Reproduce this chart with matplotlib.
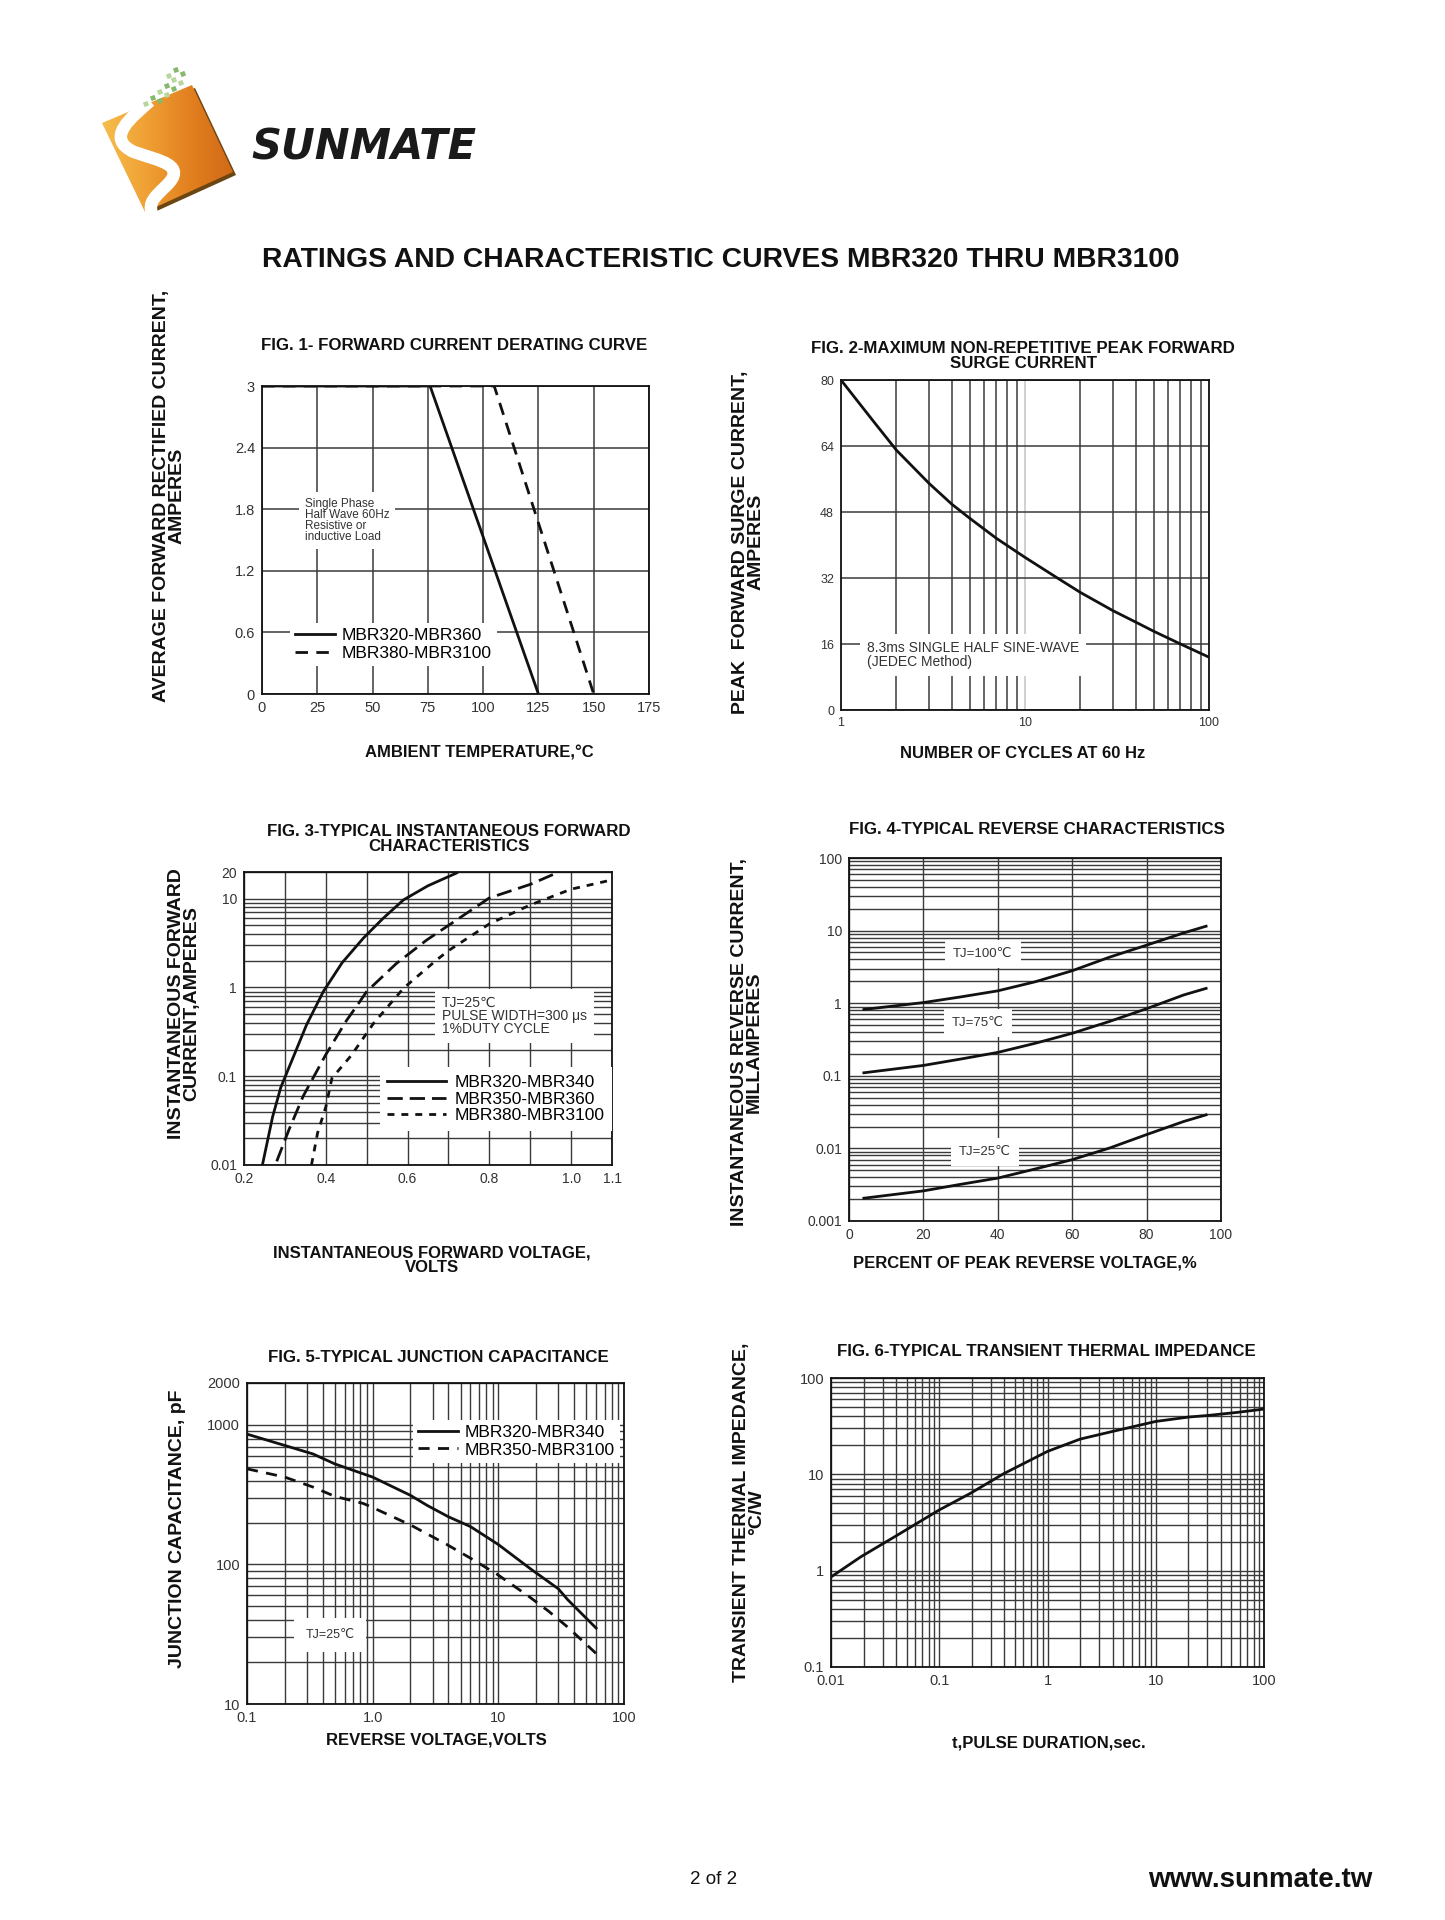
import numpy as np
import matplotlib
matplotlib.use('Agg')
import matplotlib.pyplot as plt
from matplotlib.patches import Polygon, PathPatch, RegularPolygon
from matplotlib.path import Path
from matplotlib.colors import LinearSegmentedColormap
from matplotlib.ticker import LogLocator, NullFormatter

plt.rcParams['font.family'] = ['Liberation Sans', 'DejaVu Sans']
plt.rcParams['lines.scale_dashes'] = False

W, H = 1445, 1920
GRID = '#3a3a3a'
INK = '#111111'

# ---- FIG. 1 forward current derating
f1_temp_a = [0, 76, 125]
f1_amp_a = [3.0, 3.0, 0.0]
f1_temp_b = [0, 105, 150]
f1_amp_b = [3.0, 3.0, 0.0]
f1_labels = ['MBR320-MBR360', 'MBR380-MBR3100']

# ---- FIG. 2 peak forward surge current
f2_cycles = [1, 1.2, 1.5, 2, 3, 4, 5, 7, 10, 15, 20, 30, 40, 50, 70, 100]
f2_amps = [80, 75.5, 70, 63, 55, 49.9, 46.5, 41.6, 37, 32, 28.5, 24.1, 21.3,
           19.1, 16, 12.8]

# ---- FIG. 3 forward characteristics
f3_v_a = [0.245, 0.27, 0.29, 0.317, 0.353, 0.394, 0.44, 0.492, 0.54, 0.59, 0.65, 0.72]
f3_i_a = [0.01, 0.035, 0.075, 0.15, 0.38, 0.9, 1.9, 3.6, 6.0, 9.7, 14, 19.5]
f3_v_b = [0.28, 0.31, 0.345, 0.40, 0.45, 0.48, 0.50, 0.573, 0.647, 0.70, 0.80, 0.90, 0.97]
f3_i_b = [0.011, 0.025, 0.06, 0.175, 0.42, 0.66, 0.9, 1.87, 3.43, 5.0, 10.2, 14.5, 20]
f3_v_c = [0.365, 0.38, 0.40, 0.415, 0.463, 0.516, 0.59, 0.671, 0.70, 0.80, 0.90, 1.0, 1.1]
f3_i_c = [0.01, 0.023, 0.045, 0.095, 0.173, 0.39, 0.98, 2.04, 2.6, 5.2, 8.5, 12.8, 16.3]
f3_labels = ['MBR320-MBR340', 'MBR350-MBR360', 'MBR380-MBR3100']

# ---- FIG. 4 reverse characteristics
f4_pct = [4, 20, 30, 40, 50, 60, 70, 80, 90, 96]
f4_tj100 = [0.82, 1.02, 1.22, 1.48, 1.97, 2.8, 4.3, 6.3, 9.3, 11.5]
f4_tj75 = [0.11, 0.139, 0.17, 0.21, 0.28, 0.385, 0.56, 0.84, 1.3, 1.6]
f4_tj25 = [0.00206, 0.0026, 0.0032, 0.0039, 0.0052, 0.007, 0.0101, 0.0155, 0.0235, 0.029]

# ---- FIG. 5 junction capacitance
f5_v_a = [0.1, 0.2, 0.335, 0.5, 1.0, 2.0, 2.7, 4.0, 6.0, 10, 18.2, 30, 35.6, 60]
f5_c_a = [860, 713, 620, 526, 423, 313, 266, 220, 187, 139, 92.5, 67, 56, 35]
f5_v_b = [0.1, 0.2, 0.335, 0.5, 0.84, 1.0, 2.0, 3.9, 6.0, 9.8, 17.5, 25, 35.6, 63]
f5_c_b = [485, 423, 359, 308, 274, 256, 192, 139, 111, 85, 59, 46.4, 35.6, 22.1]
f5_labels = ['MBR320-MBR340', 'MBR350-MBR3100']

# ---- FIG. 6 transient thermal impedance
f6_t = [0.01, 0.019, 0.039, 0.1, 0.195, 0.39, 1.0, 2.0, 4.0, 10, 20, 30, 57, 100]
f6_z = [0.86, 1.40, 2.26, 4.27, 6.37, 10.1, 17.3, 23.2, 27.9, 35.4, 39.3, 40.8, 44, 47.6]


fig = plt.figure(figsize=(W / 100, H / 100), dpi=100)

# page layer in pixel coordinates
pg = fig.add_axes([0, 0, 1, 1])
pg.axis('off')


def page_text(x, y, s, size, weight='bold', rot=0, **kw):
    pg.text(x, y, s, fontsize=size, fontweight=weight, rotation=rot,
            ha=kw.pop('ha', 'center'), va='center', color=kw.pop('color', INK), **kw)


def px_axes(l, t, r, b):
    return fig.add_axes([l / W, 1 - b / H, (r - l) / W, (b - t) / H])


def style(ax, size=8.5):
    for s in ax.spines.values():
        s.set_linewidth(1.3)
        s.set_color(INK)
    ax.tick_params(which='both', length=0, labelsize=size, labelcolor='#333333', pad=5)
    ax.set_axisbelow(True)


def log_minor(axis):
    axis.set_minor_locator(LogLocator(base=10, subs=np.arange(2, 10), numticks=30))
    axis.set_minor_formatter(NullFormatter())


white_box = dict(facecolor='white', edgecolor='none', boxstyle='square,pad=0.6')

# ---------------- logo ----------------
sq = [(102, 123), (192, 85), (233, 172), (145, 212)]
shadow = Polygon([(x + 3, y + 3) for x, y in sq], closed=True, facecolor='#6b4512',
                 edgecolor='none', zorder=1)
pg.add_patch(shadow)
sq_patch = Polygon(sq, closed=True, facecolor='none', edgecolor='none', zorder=2)
pg.add_patch(sq_patch)
cmap = LinearSegmentedColormap.from_list('logo', ['#f6c04e', '#f0a236', '#e2801f', '#d06816'])
grad = np.tile(np.linspace(0, 1, 128), (64, 1))
im = pg.imshow(grad, extent=(98, 236, 214, 82), cmap=cmap, aspect='auto', zorder=2)
im.set_clip_path(sq_patch)
s_path = Path([(150, 101), (132, 117), (104, 138), (134, 152),
               (160, 161), (188, 165), (166, 186),
               (155, 197), (148, 202), (152, 214)],
              [Path.MOVETO, Path.CURVE4, Path.CURVE4, Path.CURVE4,
               Path.CURVE4, Path.CURVE4, Path.CURVE4,
               Path.CURVE4, Path.CURVE4, Path.CURVE4])
pg.add_patch(PathPatch(s_path, facecolor='none', edgecolor='white', lw=9, zorder=3,
                       capstyle='butt'))
for i, (gx, gy) in enumerate([(146, 104), (153, 98), (160, 92), (167, 86), (174, 80),
                               (160, 101), (167, 95), (174, 89), (181, 83), (176, 70),
                               (169, 76), (183, 74)]):
    pg.add_patch(RegularPolygon((gx, gy), 4, radius=3.4, orientation=np.radians(23),
                                facecolor='#86b96c' if i % 2 else '#b7d79c',
                                edgecolor='none', zorder=4))
pg.text(251, 147, 'SUNMATE', fontsize=30, fontweight='bold', fontstyle='italic',
        family='DejaVu Sans', color='#1a1a1a', ha='left', va='center')

pg.set_xlim(0, W)
pg.set_ylim(H, 0)

# ---------------- page texts ----------------
page_text(721, 260, 'RATINGS AND CHARACTERISTIC CURVES MBR320 THRU MBR3100', 20.3)
page_text(714, 1880, '2 of 2', 13.5, weight='normal')
page_text(1372, 1880, 'www.sunmate.tw', 20, ha='right')

YL = dict(rot=90, linespacing=0.85, multialignment='center')

# ---------------- FIG. 1 ----------------
ax1 = px_axes(262, 386, 649, 694)
style(ax1, 10.5)
ax1.plot(f1_temp_a, f1_amp_a, color=INK, lw=2.0, label=f1_labels[0], zorder=4)
ax1.plot(f1_temp_b, f1_amp_b, color=INK, lw=2.0, dashes=(9, 6), label=f1_labels[1], zorder=4)
ax1.set_xlim(0, 175)
ax1.set_ylim(0, 3)
ax1.set_xticks(range(0, 176, 25))
ax1.set_yticks([0, 0.6, 1.2, 1.8, 2.4, 3])
ax1.set_yticklabels(['0', '0.6', '1.2', '1.8', '2.4', '3'])
ax1.grid(True, color=GRID, lw=1.1)
ax1.text(19.4, 1.69, 'Single Phase\nHalf Wave 60Hz\nResistive or\ninductive Load',
         fontsize=8.5, color='#333333', va='center', ha='left', linespacing=0.9,
         bbox=dict(facecolor='white', edgecolor='none', boxstyle='square,pad=0.5'))
ax1.legend(loc='center left', bbox_to_anchor=(0.05, 0.16), fontsize=12.5,
           frameon=True, fancybox=False, edgecolor='none', facecolor='white',
           framealpha=1, handlelength=2.3, handletextpad=0.4, labelspacing=0.15,
           borderpad=0.3)
page_text(454, 346, 'FIG. 1- FORWARD CURRENT DERATING CURVE', 12.2)
page_text(479, 753, 'AMBIENT TEMPERATURE,°C', 12)
page_text(169, 496, 'AVERAGE FORWARD RECTIFIED CURRENT,\nAMPERES', 14, **YL)

# ---------------- FIG. 2 ----------------
ax2 = px_axes(841, 380, 1209, 710)
style(ax2, 9)
ax2.plot(f2_cycles, f2_amps, color=INK, lw=2.0, zorder=4)
ax2.set_xscale('log')
ax2.set_xlim(1, 100)
ax2.set_ylim(0, 80)
ax2.set_xticks([1, 10, 100])
ax2.set_xticklabels(['1', '10', '100'])
log_minor(ax2.xaxis)
ax2.set_yticks([0, 16, 32, 48, 64, 80])
ax2.grid(True, axis='x', which='minor', color=GRID, lw=1.1)
ax2.grid(True, axis='x', which='major', color='#c4c4c4', lw=1.1)
ax2.grid(True, axis='y', which='major', color=GRID, lw=1.1)
ax2.text(1.385, 13.3, '8.3ms SINGLE HALF SINE-WAVE\n(JEDEC Method)', fontsize=10,
         color='#333333', va='center', ha='left', linespacing=1.0,
         bbox=dict(facecolor='white', edgecolor='none', boxstyle='square,pad=0.5'))
page_text(1023, 356, 'FIG. 2-MAXIMUM NON-REPETITIVE PEAK FORWARD\nSURGE CURRENT', 12.2,
          linespacing=0.95)
page_text(1023, 754, 'NUMBER OF CYCLES AT 60 Hz', 12)
page_text(748, 542, 'PEAK  FORWARD SURGE CURRENT,\nAMPERES', 14, **YL)

# ---------------- FIG. 3 ----------------
ax3 = px_axes(244, 872, 612, 1165)
style(ax3, 10)
ax3.plot(f3_v_a, f3_i_a, color=INK, lw=2.0, label=f3_labels[0], zorder=4)
ax3.plot(f3_v_b, f3_i_b, color=INK, lw=2.0, dashes=(11, 5), label=f3_labels[1], zorder=4)
ax3.plot(f3_v_c, f3_i_c, color=INK, lw=2.0, dashes=(5, 5), label=f3_labels[2], zorder=4)
ax3.set_yscale('log')
ax3.set_xlim(0.2, 1.1)
ax3.set_ylim(0.01, 20)
ax3.set_xticks([0.2, 0.4, 0.6, 0.8, 1.0, 1.1])
ax3.set_xticklabels(['0.2', '0.4', '0.6', '0.8', '1.0', '1.1'])
ax3.set_xticks([0.3, 0.5, 0.7, 0.9], minor=True)
ax3.set_yticks([0.01, 0.1, 1, 10, 20])
ax3.set_yticklabels(['0.01', '0.1', '1', '10', '20'])
log_minor(ax3.yaxis)
ax3.grid(True, which='both', color=GRID, lw=1.0)
ax3.text(0.684, 0.477, 'TJ=25℃\nPULSE WIDTH=300 μs\n1%DUTY CYCLE',
         fontsize=10, color='#333333', va='center', ha='left', linespacing=0.95,
         bbox=dict(facecolor='white', edgecolor='none', boxstyle='square,pad=0.5'))
ax3.legend(loc='lower right', bbox_to_anchor=(1.0, 0.115), fontsize=12.5, frameon=True,
           fancybox=False, edgecolor='none', facecolor='white', framealpha=1,
           handlelength=3.4, handletextpad=0.45, labelspacing=0.08, borderpad=0.45,
           borderaxespad=0)
page_text(449, 839, 'FIG. 3-TYPICAL INSTANTANEOUS FORWARD\nCHARACTERISTICS', 12.2,
          linespacing=0.95)
page_text(432, 1260, 'INSTANTANEOUS FORWARD VOLTAGE,\nVOLTS', 12, linespacing=0.95)
page_text(184, 1004, 'INSTANTANEOUS FORWARD\nCURRENT,AMPERES', 14, **YL)

# ---------------- FIG. 4 ----------------
ax4 = px_axes(849, 858, 1221, 1221)
style(ax4, 10)
for vals in (f4_tj100, f4_tj75, f4_tj25):
    ax4.plot(f4_pct, vals, color=INK, lw=2.0, zorder=4)
ax4.set_yscale('log')
ax4.set_xlim(0, 100)
ax4.set_ylim(0.001, 100)
ax4.set_xticks(range(0, 101, 20))
ax4.set_yticks([0.001, 0.01, 0.1, 1, 10, 100])
ax4.set_yticklabels(['0.001', '0.01', '0.1', '1', '10', '100'])
log_minor(ax4.yaxis)
ax4.grid(True, axis='x', which='major', color=GRID, lw=1.0)
ax4.grid(True, axis='y', which='both', color=GRID, lw=1.0)
for x, y, s in [(36, 4.76, 'TJ=100℃'), (34.7, 0.53, 'TJ=75℃'), (36.6, 0.0089, 'TJ=25℃')]:
    ax4.text(x, y, s, fontsize=9.5, color='#333333', ha='center', va='center',
             bbox=white_box)
page_text(1037, 829, 'FIG. 4-TYPICAL REVERSE CHARACTERISTICS', 12.2)
page_text(1025, 1263, 'PERCENT OF PEAK REVERSE VOLTAGE,%', 12)
page_text(747, 1042, 'INSTANTANEOUS REVERSE CURRENT,\nMILLAMPERES', 14, **YL)

# ---------------- FIG. 5 ----------------
ax5 = px_axes(247, 1383, 624, 1704)
style(ax5, 10.5)
ax5.plot(f5_v_a, f5_c_a, color=INK, lw=2.0, label=f5_labels[0], zorder=4)
ax5.plot(f5_v_b, f5_c_b, color=INK, lw=2.0, dashes=(8, 6), label=f5_labels[1], zorder=4)
ax5.set_xscale('log')
ax5.set_yscale('log')
ax5.set_xlim(0.1, 100)
ax5.set_ylim(10, 2000)
ax5.set_xticks([0.1, 1, 10, 100])
ax5.set_xticklabels(['0.1', '1.0', '10', '100'])
ax5.set_yticks([10, 100, 1000, 2000])
ax5.set_yticklabels(['10', '100', '1000', '2000'])
log_minor(ax5.xaxis)
log_minor(ax5.yaxis)
ax5.grid(True, which='both', color=GRID, lw=1.0)
ax5.text(0.457, 31.3, 'TJ=25℃', fontsize=9, color='#333333',
         ha='center', va='center', bbox=dict(facecolor='white', edgecolor='none',
                                            boxstyle='square,pad=0.9'))
ax5.legend(loc='upper right', bbox_to_anchor=(0.99, 0.885), fontsize=12.5, frameon=True,
           fancybox=False, edgecolor='none', facecolor='white', framealpha=1,
           handlelength=2.3, handletextpad=0.4, labelspacing=0.12, borderpad=0.3,
           borderaxespad=0)
page_text(438, 1358, 'FIG. 5-TYPICAL JUNCTION CAPACITANCE', 12.2)
page_text(436, 1740, 'REVERSE VOLTAGE,VOLTS', 12)
page_text(178, 1529, 'JUNCTION CAPACITANCE, pF', 14, rot=90)

# ---------------- FIG. 6 ----------------
ax6 = px_axes(831, 1378, 1264, 1667)
style(ax6, 10.5)
ax6.plot(f6_t, f6_z, color=INK, lw=2.0, zorder=4)
ax6.set_xscale('log')
ax6.set_yscale('log')
ax6.set_xlim(0.01, 100)
ax6.set_ylim(0.1, 100)
ax6.set_xticks([0.01, 0.1, 1, 10, 100])
ax6.set_xticklabels(['0.01', '0.1', '1', '10', '100'])
ax6.set_yticks([0.1, 1, 10, 100])
ax6.set_yticklabels(['0.1', '1', '10', '100'])
log_minor(ax6.xaxis)
log_minor(ax6.yaxis)
ax6.grid(True, which='both', color=GRID, lw=1.0)
page_text(1046, 1352, 'FIG. 6-TYPICAL TRANSIENT THERMAL IMPEDANCE', 12.2)
page_text(1049, 1743, 't,PULSE DURATION,sec.', 12)
page_text(749, 1512, 'TRANSIENT THERMAL IMPEDANCE,\n°C/W', 14, **YL)

fig.savefig('out.png', dpi=100, facecolor='white')
